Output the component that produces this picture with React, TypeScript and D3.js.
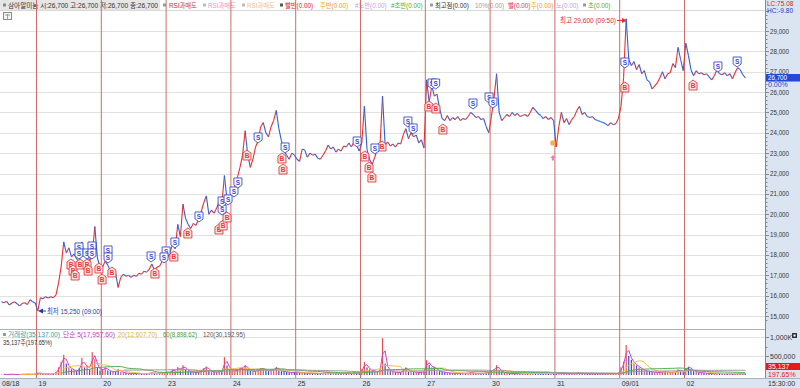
import React from "react";
import * as d3 from "d3";

const W = 800;
const H = 388;

const dayLabels = ["08/18", "19", "20", "23", "24", "25", "26", "27", "30", "31", "09/01", "02"];
const barsPerDay = 25;

const price0818 = [15700, 15650, 15720, 15540, 15640, 15700, 15600, 15500, 15620, 15650, 15560, 15800, 15700, 15640];
const price0819 = [15250, 15900, 15850, 15950, 15880, 15950, 15900, 16030, 16620, 17410, 18640, 18100, 18350, 17900, 18050, 17800, 17650, 18640, 17900, 18250, 17700, 18000, 19400, 17850, 17400];
const price0820 = [17400, 17700, 17500, 17200, 17300, 17100, 16400, 16900, 17050, 16950, 17000, 16900, 17000, 16950, 17100, 17050, 17200, 17150, 17300, 17550, 17250, 17400, 17450, 17700, 17850];
const price0823 = [17850, 18100, 18550, 18300, 19500, 18900, 20500, 19800, 19500, 19300, 19550, 19450, 19750, 20100, 20550, 20900, 20000, 20200, 20050, 20300, 20650, 20500, 21900, 20700, 20900];
const price0824 = [21100, 21300, 21800, 22300, 22900, 24100, 22900, 22300, 22700, 23300, 23600, 24300, 24500, 24000, 23800, 24300, 24600, 25100, 24200, 23600, 23100, 22900, 22700, 23000, 22900];
const price0825 = [22700, 22600, 23200, 23150, 22800, 23000, 22900, 22950, 22750, 22700, 22900, 23100, 23400, 23200, 23300, 23050, 23200, 23100, 23350, 23300, 23500, 23300, 23550, 23400, 23100];
const price0826 = [23500, 25300, 23200, 22700, 22450, 22800, 23200, 23300, 25800, 23400, 23550, 23350, 23450, 23300, 23500, 23450, 23900, 24200, 23700, 24000, 23800, 23900, 23500, 23650, 23250];
const price0827 = [26600, 25500, 26300, 25800, 25900, 25200, 24700, 24600, 24850, 24600, 24750, 24650, 24800, 24600, 24700, 24650, 24800, 25000, 24900, 24750, 24800, 24650, 24700, 24300, 24000];
const price0830 = [24800, 25700, 26900, 25000, 24600, 24750, 24900, 24800, 25000, 24850, 24950, 24800, 24850, 24900, 24800, 25000, 25250, 25100, 24950, 24850, 24700, 24800, 24650, 24750, 24600];
const price0831 = [23300, 24300, 25000, 24500, 24700, 24400, 24650, 24800, 25100, 25300, 24900, 25000, 24800, 24750, 24800, 24650, 24600, 24550, 24500, 24450, 24350, 24500, 24400, 24450, 24700];
const price0901 = [25300, 26700, 29600, 27600, 27300, 27500, 27100, 27350, 26900, 27050, 26600, 26500, 26150, 26300, 26450, 26700, 27000, 26650, 26900, 26950, 27400, 27200, 28200, 27600, 27050];
const price0902 = [28400, 27800, 27100, 26800, 27050, 26900, 26950, 26850, 26900, 26750, 26600, 26800, 27100, 26900, 26850, 26950, 26800, 26900, 26650, 26950, 27200, 27100, 26850, 26700];

const priceDays = [price0818, price0819, price0820, price0823, price0824, price0825, price0826, price0827, price0830, price0831, price0901, price0902];

// volume in thousands of shares
const vol0818 = [15, 20, 10, 25, 15, 20, 10, 15, 20, 15, 25, 20, 15, 30];
const vol0819 = [60, 40, 30, 25, 30, 20, 35, 80, 200, 350, 530, 300, 200, 150, 120, 100, 180, 450, 200, 250, 150, 600, 420, 200, 120];
const vol0820 = [150, 200, 120, 100, 80, 90, 150, 80, 60, 50, 40, 45, 40, 35, 40, 30, 35, 40, 50, 60, 40, 45, 50, 60, 70];
const vol0823 = [80, 70, 150, 100, 210, 120, 260, 150, 100, 80, 70, 60, 80, 120, 180, 220, 120, 90, 80, 70, 100, 90, 470, 250, 150];
const vol0824 = [120, 100, 150, 180, 200, 260, 150, 110, 90, 100, 150, 180, 160, 120, 100, 130, 150, 210, 120, 100, 90, 80, 70, 60, 70];
const vol0825 = [80, 60, 70, 50, 40, 50, 40, 45, 35, 40, 50, 60, 70, 50, 40, 45, 40, 50, 45, 60, 50, 40, 70, 50, 60];
const vol0826 = [150, 340, 200, 150, 120, 100, 90, 120, 970, 300, 150, 100, 80, 70, 60, 70, 150, 200, 90, 100, 80, 70, 60, 80, 100];
const vol0827 = [390, 260, 200, 210, 120, 100, 80, 70, 60, 50, 50, 45, 40, 50, 40, 45, 50, 70, 50, 45, 40, 50, 45, 60, 80];
const vol0830 = [120, 150, 260, 120, 90, 60, 50, 40, 45, 40, 35, 40, 30, 35, 40, 50, 60, 45, 40, 35, 30, 35, 30, 40, 50];
const vol0831 = [60, 50, 70, 50, 40, 35, 30, 40, 60, 50, 40, 35, 30, 25, 30, 35, 30, 25, 30, 25, 30, 35, 30, 40, 50];
const vol0901 = [200, 350, 790, 500, 400, 300, 250, 200, 150, 120, 100, 90, 80, 70, 60, 70, 80, 90, 70, 60, 80, 70, 150, 100, 80];
const vol0902 = [180, 220, 150, 100, 80, 70, 60, 50, 45, 40, 35, 40, 50, 40, 35, 30, 35, 30, 25, 30, 35, 30, 25, 35];

const volumeDays = [vol0818, vol0819, vol0820, vol0823, vol0824, vol0825, vol0826, vol0827, vol0830, vol0831, vol0901, vol0902];

// signal markers: bar index (global) and price level
const sellIdx = [40.9, 40.9, 44.0, 45.9, 45.9, 52.1, 52.1, 68.7, 74.5, 73.7, 77.9, 87.2, 96.1, 96.1, 98.4, 100.7, 102.2, 110.0, 120.4, 148.2, 155.1, 167.8, 169.8, 177.1, 178.5, 192.9, 199.1, 200.6, 251.5, 287.4, 294.8];
const sellPrice = [18341, 18046, 18046, 18390, 18046, 18194, 17850, 17899, 18144, 17850, 18587, 19864, 20207, 20600, 20699, 21092, 21534, 23744, 23253, 23548, 23204, 24530, 24186, 26397, 26397, 25414, 25709, 25463, 27428, 27232, 27477];
const buyIdx = [37.8, 38.6, 39.4, 41.3, 44.0, 44.4, 48.6, 49.8, 53.6, 70.2, 77.5, 82.9, 94.9, 96.5, 98.0, 105.7, 119.2, 119.6, 151.2, 152.8, 153.9, 157.8, 175.9, 178.6, 181.3, 251.5, 277.8];
const buyPrice = [17555, 17260, 17015, 17555, 17555, 17260, 17358, 16818, 17162, 17113, 17948, 19078, 19274, 19471, 19864, 22909, 22762, 22221, 22860, 22320, 21828, 23351, 25316, 25218, 24186, 26249, 26347];

const priceTicks = [15000, 16000, 17000, 18000, 19000, 20000, 21000, 22000, 23000, 24000, 25000, 26000, 27000, 28000, 29000];
const maWindows = [2, 8, 24, 48];
const maColors = ["#d040d0", "#f0c040", "#50b050", "#9a9a9a"];

const FONT = "'Liberation Sans', 'Noto Sans CJK KR', sans-serif";

export default function App() {
  const x = d3.scaleLinear().domain([0, barsPerDay * 12]).range([-28.3, 749.3]);
  const y = d3.scaleLinear().domain([15000, 29000]).range([316, 31]);
  const vy = d3.scaleLinear().domain([0, 1000000]).range([375, 337]);

  const bars: { g: number; p: number; v: number }[] = [];
  priceDays.forEach((arr, d) => {
    const start = d === 0 ? barsPerDay - arr.length : 0;
    arr.forEach((p, k) => {
      bars.push({ g: d * barsPerDay + start + k, p, v: volumeDays[d][k] * 1000 });
    });
  });

  const up = bars.map((b, i) => (i === 0 ? true : b.p >= bars[i - 1].p));

  const segs = bars.slice(1).map((b, i) => {
    const a = bars[i];
    return {
      x1: x(a.g + 0.5), y1: y(a.p), x2: x(b.g + 0.5), y2: y(b.p),
      c: b.p > a.p ? "#e8312f" : b.p < a.p ? "#2f5fd8" : "#8a70c0",
    };
  });

  const maLines = maWindows.map((w) => {
    const pts: [number, number][] = [];
    for (let i = w - 1; i < bars.length; i++) {
      const m = d3.mean(bars.slice(i - w + 1, i + 1), (b) => b.v) as number;
      pts.push([x(bars[i].g + 0.5), vy(m)]);
    }
    return d3.line()(pts) || "";
  });

  const minorTicks = d3.range(14800, 30001, 200);
  const sep = d3.range(1, 12).map((d) => x(d * barsPerDay));
  const lastPrice = bars[bars.length - 1].p;

  const header1: [number, string, string][] = [
    [169, "RSI과매도", "#d0304a"],
    [208, "RSI과매도", "#f090c8"],
    [247, "RSI과매도", "#f2be8a"],
    [285, "빨반(0.00)", "#e82020"],
    [320, "주반(0.00)", "#f0a020"],
    [355, "#노반(0.00)", "#c0a0e8"],
    [391, "#초반(0.00)", "#40b040"],
    [435, "최고점(0.00)", "#333333"],
    [475, "10%(0.00)", "#9a9a9a"],
    [508, "빨(0.00)", "#e83060"],
    [531, "주(0.00)", "#f0a030"],
    [556, "노(0.00)", "#c0a0e8"],
    [588, "초(0.00)", "#40b040"],
  ];
  const squares1: [number, string][] = [[3, "#888"], [163, "#999"], [203, "#bbb"], [242, "#bbb"], [280, "#555"], [430, "#999"], [583, "#999"]];

  const volHeader: [number, number, string, string][] = [
    [8, 52, "거래량(35,137.00)", "#3aa0a0"],
    [63, 52, "단순 5(17,957.60)", "#c040c0"],
    [118, 39, "20(12,607.70)", "#e0b040"],
    [163, 34, "60(8,898.62)", "#40a040"],
    [203, 42, "120(30,192.95)", "#555555"],
  ];

  return (
    <svg width={W} height={H} style={{ display: "block", position: "absolute", left: 0, top: 0, background: "#fff" }} fontFamily={FONT}>
      <defs>
        <clipPath id="pc"><rect x={0} y={11} width={765} height={318} /></clipPath>
        <clipPath id="vc"><rect x={0} y={330} width={765} height={48} /></clipPath>
      </defs>
      <rect x={765} y={0} width={35} height={388} fill="#dbe5f1" />
      <rect x={0} y={378} width={800} height={10} fill="#dbe5f1" />
      <line x1={0} x2={800} y1={378.5} y2={378.5} stroke="#a8b4c4" />
      {/* header */}
      <rect x={0} y={0} width={160} height={10} fill="#e6e6e6" />
      {squares1.map(([sx, c], i) => (
        <rect key={i} x={sx} y={3.5} width={3} height={3} fill={c} />
      ))}
      <text x={8} y={7.8} fontSize={6.5} fill="#333" textLength={150} lengthAdjust="spacingAndGlyphs">
        삼아알미늄 시:26,700 고:26,700 저:26,700 종:26,700
      </text>
      {header1.map(([tx, t, c], i) => (
        <text key={i} x={tx} y={7.8} fontSize={6.3} fill={c}>{t}</text>
      ))}
      <line x1={0} x2={765} y1={10.5} y2={10.5} stroke="#d8d8d8" />
      <rect x={3.5} y={12.5} width={8} height={7} fill="#f4f4f4" stroke="#8c8c8c" />
      <line x1={5} x2={10} y1={15} y2={15} stroke="#8c8c8c" strokeWidth={0.8} />
      <line x1={7.5} x2={7.5} y1={14} y2={19} stroke="#8c8c8c" strokeWidth={0.8} />
      {/* gridlines */}
      {priceTicks.map((p) => (
        <line key={p} x1={0} x2={765} y1={Math.round(y(p)) + 0.5} y2={Math.round(y(p)) + 0.5} stroke="#e2e2e2" />
      ))}
      <line x1={0} x2={765} y1={vy(1000000) + 0.5} y2={vy(1000000) + 0.5} stroke="#e2e2e2" />
      <line x1={0} x2={765} y1={vy(500000) + 0.5} y2={vy(500000) + 0.5} stroke="#e2e2e2" />
      <line x1={0} x2={765} y1={329.5} y2={329.5} stroke="#b0b0b0" />
      {/* day separators */}
      {sep.map((sx, i) => (
        <line key={i} x1={sx} x2={sx} y1={0} y2={378} stroke="#d46a6a" strokeWidth={1} />
      ))}
      {/* price line */}
      <g clipPath="url(#pc)">
        {segs.map((s, i) => (
          <line key={i} x1={s.x1} y1={s.y1} x2={s.x2} y2={s.y2} stroke={s.c} strokeWidth={1.1} />
        ))}
        <rect x={x(224.2) - 2.5} y={y(23498) - 2.5} width={5} height={5} rx={1.5} fill="#f6b04a" />
        <path d={`M${x(224.2)},${y(22762) - 3} l2.5,3 h-1.5 v2.5 h-2 v-2.5 h-1.5 z`} fill="#f07ab8" />
        {buyIdx.map((g, i) => {
          const cx = x(g + 0.5);
          const cy = y(buyPrice[i]);
          return (
            <g key={"b" + i} transform={`translate(${cx},${cy})`}>
              <path d="M-4,5 H4 V-2 L0,-5 L-4,-2 Z" fill="#ffe4e4" stroke="#e23a3a" strokeWidth={0.9} />
              <text x={0} y={3.4} fontSize={6.5} fill="#e23a3a" textAnchor="middle" fontWeight="bold">B</text>
            </g>
          );
        })}
        {sellIdx.map((g, i) => {
          const cx = x(g + 0.5);
          const cy = y(sellPrice[i]);
          return (
            <g key={"s" + i} transform={`translate(${cx},${cy})`}>
              <path d="M-4,-5 H4 V2 L0,5 L-4,2 Z" fill="#ffffff" stroke="#3a48d0" strokeWidth={0.9} />
              <text x={0} y={1.8} fontSize={6.5} fill="#3a48d0" textAnchor="middle" fontWeight="bold">S</text>
            </g>
          );
        })}
      </g>
      {/* high / low annotations */}
      <text x={560} y={23} fontSize={7.5} fill="#e03030" textLength={56} lengthAdjust="spacingAndGlyphs">최고 29,600 (09:50)</text>
      <line x1={617} x2={623} y1={20.5} y2={20.5} stroke="#e03030" />
      <path d="M627,20.5 L622,18 L622,23 Z" fill="#e03030" />
      <path d="M38,311 L43,308.5 L43,313.5 Z" fill="#1a3fb0" />
      <line x1={42} x2={46} y1={311} y2={311} stroke="#1a3fb0" />
      <text x={47} y={313.5} fontSize={7.5} fill="#1a3fb0" textLength={55} lengthAdjust="spacingAndGlyphs">최저 15,250 (09:00)</text>
      {/* volume */}
      <g clipPath="url(#vc)">
        {bars.map((b, i) => (
          <rect key={i} x={x(b.g + 0.5) - 0.6} y={vy(b.v)} width={1.2} height={vy(0) - vy(b.v)} fill={up[i] ? "#e85050" : "#3050c8"} />
        ))}
        {maLines.map((d, i) => (
          <path key={i} d={d} fill="none" stroke={maColors[i]} strokeWidth={1} />
        ))}
      </g>
      <rect x={3} y={333} width={3} height={3} fill="#999" />
      {volHeader.map(([tx, tw, t, c], i) => (
        <text key={i} x={tx} y={337} fontSize={6.8} fill={c} textLength={tw} lengthAdjust="spacingAndGlyphs">{t}</text>
      ))}
      <text x={3} y={345} fontSize={6.8} fill="#333" textLength={49} lengthAdjust="spacingAndGlyphs">35,137주(197.65%)</text>
      {/* right axis */}
      <line x1={765.5} x2={765.5} y1={0} y2={378} stroke="#7a8aa0" />
      {minorTicks.map((p) => (
        <line key={p} x1={765.5} x2={p % 1000 === 0 ? 769 : 767.5} y1={Math.round(y(p)) + 0.5} y2={Math.round(y(p)) + 0.5} stroke="#7a8aa0" />
      ))}
      {priceTicks.map((p) => (
        <text key={p} x={770} y={y(p) + 2.5} fontSize={7} fill="#333" textLength={19} lengthAdjust="spacingAndGlyphs">{d3.format(",")(p)}</text>
      ))}
      <text x={767} y={6} fontSize={6.5} fill="#e02020">LC:75.08</text>
      <text x={767} y={13} fontSize={6.5} fill="#2040c0">HC:-9.80</text>
      <rect x={766} y={y(lastPrice) - 3.8} width={34} height={7.5} fill="#2448d8" />
      <text x={768} y={y(lastPrice) + 2.6} fontSize={7} fill="#fff" textLength={19} lengthAdjust="spacingAndGlyphs">{d3.format(",")(lastPrice)}</text>
      <text x={768} y={y(lastPrice) + 9} fontSize={7} fill="#2448d8">0.00%</text>
      {/* volume axis */}
      {[250000, 500000, 750000, 1000000].map((v) => (
        <line key={v} x1={765.5} x2={v % 500000 === 0 ? 769 : 767.5} y1={Math.round(vy(v)) + 0.5} y2={Math.round(vy(v)) + 0.5} stroke="#7a8aa0" />
      ))}
      <text x={770} y={vy(1000000) + 2.5} fontSize={7} fill="#333">1,000K</text>
      <text x={770} y={vy(500000) + 2.5} fontSize={7} fill="#333">500,000</text>
      <rect x={792} y={333} width={5} height={5} fill="#333" />
      <rect x={793.5} y={334.5} width={2} height={2} fill="#fff" />
      <rect x={766} y={363} width={34} height={7} fill="#e81818" />
      <text x={768} y={369} fontSize={7} fill="#fff">35,137</text>
      <text x={768} y={376.5} fontSize={7} fill="#e81818">197.65%</text>
      {/* time axis */}
      {dayLabels.map((t, d) => (
        <text key={t} x={d === 0 ? 2 : x(d * barsPerDay) + 2} y={386} fontSize={7} fill="#333">{t}</text>
      ))}
      <text x={768} y={386} fontSize={7} fill="#333">15:30:00</text>
    </svg>
  );
}
